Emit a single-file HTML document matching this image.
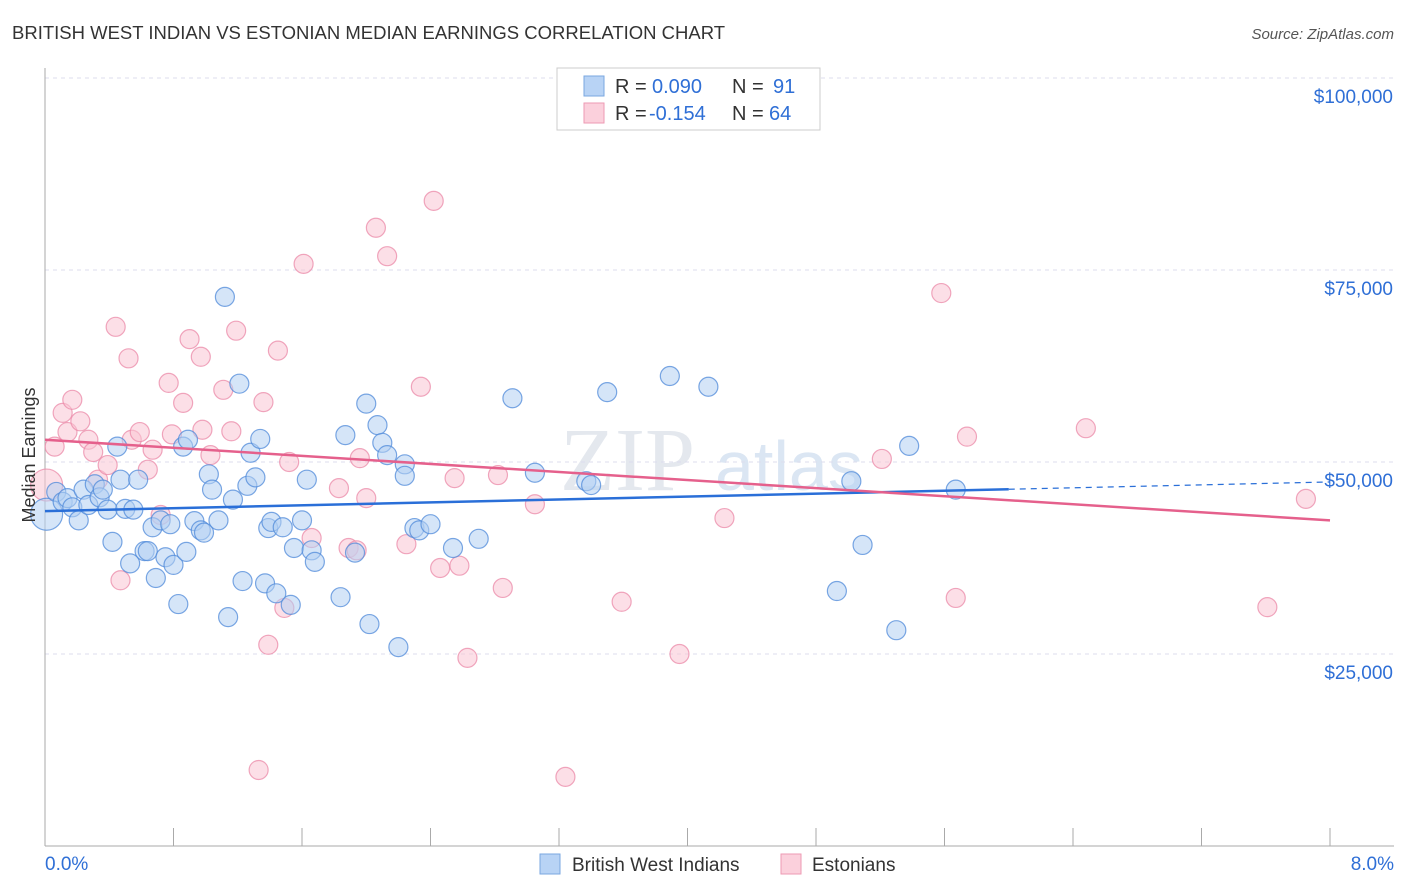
<!DOCTYPE html>
<html><head><meta charset="utf-8">
<style>
body{margin:0;background:#fff;font-family:"Liberation Sans",sans-serif;}
#wrap{position:relative;width:1406px;height:892px;overflow:hidden;}
</style></head>
<body>
<div id="wrap">
<svg id="chart" width="1406" height="892" xmlns="http://www.w3.org/2000/svg">
<text x="12" y="39" font-size="18.5" fill="#333">BRITISH WEST INDIAN VS ESTONIAN MEDIAN EARNINGS CORRELATION CHART</text>
<text x="1394" y="39" font-size="15" fill="#555" font-style="italic" text-anchor="end">Source: ZipAtlas.com</text>
<text x="560" y="490" font-size="90" fill="#e4e8ee" font-family="Liberation Serif, serif">ZIP</text>
<text x="715" y="490" font-size="70" fill="#dbe6f3">atlas</text>
<g id="grid"></g>
<g id="axes"></g>
<g id="pts"></g>
<g id="trend"></g>
<text transform="translate(35,455) rotate(-90)" font-size="18" fill="#333" text-anchor="middle">Median Earnings</text>
<g>
<rect x="557" y="68" width="263" height="62" fill="#fff" stroke="#ccc"/>
<rect x="584" y="76" width="20" height="20" fill="#b8d3f5" stroke="#7aa7e0"/>
<rect x="584" y="103" width="20" height="20" fill="#fbd0dc" stroke="#ee9ab3"/>
<text x="615" y="93" font-size="20" fill="#333">R =</text>
<text x="652" y="93" font-size="20" fill="#2f6fd6">0.090</text>
<text x="732" y="93" font-size="20" fill="#333">N =</text>
<text x="773" y="93" font-size="20" fill="#2f6fd6">91</text>
<text x="615" y="120" font-size="20" fill="#333">R =</text>
<text x="649" y="120" font-size="20" fill="#2f6fd6">-0.154</text>
<text x="732" y="120" font-size="20" fill="#333">N =</text>
<text x="769" y="120" font-size="20" fill="#2f6fd6">64</text>
</g>
<g>
<rect x="540" y="854" width="20" height="20" fill="#b8d3f5" stroke="#7aa7e0"/>
<text x="572" y="871" font-size="19" fill="#333">British West Indians</text>
<rect x="781" y="854" width="20" height="20" fill="#fbd0dc" stroke="#ee9ab3"/>
<text x="812" y="871" font-size="19" fill="#333">Estonians</text>
</g>
</svg>
</div>
<script>
const yTicks=[25000,50000,75000,100000];
const yTickLabels=["$25,000","$50,000","$75,000","$100,000"];
const xTickCount=10;
const xLabels=["0.0%","8.0%"];
const blueX=[0.01,0.07,0.11,0.14,0.17,0.21,0.24,0.27,0.31,0.34,0.36,0.39,0.42,0.45,0.47,0.50,0.53,0.55,0.58,0.62,0.64,0.67,0.69,0.72,0.75,0.78,0.80,0.83,0.86,0.88,0.89,0.93,0.97,0.99,1.02,1.04,1.08,1.12,1.14,1.17,1.21,1.23,1.26,1.28,1.31,1.34,1.37,1.39,1.41,1.44,1.48,1.53,1.55,1.60,1.63,1.66,1.68,1.84,1.87,1.93,2.00,2.02,2.07,2.10,2.13,2.20,2.24,2.24,2.30,2.33,2.40,2.54,2.70,2.91,3.05,3.37,3.40,3.50,3.89,4.13,4.93,5.02,5.09,5.30,5.38,5.67];
const blueY=[43.2,46.1,44.8,45.3,44.1,42.4,46.4,44.4,47.1,45.4,46.4,43.8,39.6,52.0,47.7,43.9,36.8,43.8,47.7,38.4,38.4,41.5,34.9,42.4,37.6,41.9,36.6,31.5,52.0,38.3,52.9,42.3,41.1,40.8,48.4,46.4,42.4,71.5,29.8,45.1,60.2,34.5,46.9,51.2,48.0,53.0,34.2,41.4,42.2,32.9,41.5,31.4,38.8,42.4,47.7,38.5,37.0,32.4,53.5,38.2,57.6,28.9,54.8,52.5,50.9,25.9,49.7,48.2,41.4,41.1,41.9,38.8,40.0,58.3,48.6,47.5,47.0,59.1,61.2,59.8,33.2,47.5,39.2,28.1,52.1,46.4];
const pinkX=[0.01,0.06,0.11,0.14,0.17,0.22,0.27,0.30,0.33,0.39,0.44,0.47,0.52,0.54,0.59,0.64,0.67,0.72,0.77,0.79,0.86,0.90,0.97,0.98,1.03,1.11,1.16,1.19,1.33,1.36,1.39,1.45,1.49,1.52,1.61,1.66,1.83,1.89,1.94,1.96,2.00,2.06,2.13,2.25,2.34,2.42,2.46,2.55,2.58,2.63,2.82,2.85,3.05,3.24,3.59,3.95,4.23,5.21,5.58,5.67,5.74,6.48,7.61,7.85];
const pinkY=[47.0,52.0,56.4,53.9,58.1,55.3,52.9,51.3,47.7,49.6,67.6,34.6,63.5,52.9,53.9,49.0,51.6,43.1,60.3,53.6,57.7,66.0,63.7,54.2,50.9,59.4,54.0,67.1,9.9,57.8,26.2,64.5,31.0,50.0,75.8,40.1,46.6,38.8,38.5,50.5,45.3,80.5,76.8,39.3,59.8,84.0,36.2,47.9,36.5,24.5,48.3,33.6,44.5,9.0,31.8,25.0,42.7,50.4,72.0,32.3,53.3,54.4,31.1,45.2];
const blueTrend=[43.6,47.4];
const pinkTrend=[52.9,42.4];
const blueSolidEnd=6.0;

const NS="http://www.w3.org/2000/svg";
const X0=45,X1=1330,YB=846,PX_PER_K=7.68;
function xs(p){return X0+(p/8)*(X1-X0);}
function ys(k){return YB-k*PX_PER_K;}
function mk(t,a,parent){const e=document.createElementNS(NS,t);for(const k in a)e.setAttribute(k,a[k]);parent.appendChild(e);return e;}
const grid=document.getElementById('grid'),axes=document.getElementById('axes'),pts=document.getElementById('pts'),trend=document.getElementById('trend');
yTicks.forEach((v,i)=>{
  const y=ys(v/1000);
  const l=mk('line',{x1:X0,x2:1394,y1:y,y2:y,stroke:'#dde',"stroke-dasharray":'4,4'},grid);
  
  
  const t=mk('text',{x:1393,y:y+25,"font-size":19,fill:'#2f6fd6',"text-anchor":'end'},grid);
  t.textContent=yTickLabels[i];
  
  
});
const ya=mk('line',{x1:X0,x2:X0,y1:68,y2:YB,stroke:'#aaa'},axes);


const xa=mk('line',{x1:X0,x2:1394,y1:YB,y2:YB,stroke:'#aaa'},axes);


for(let i=0;i<=xTickCount;i++){
  const x=xs(i*8/xTickCount);
  const tk=mk('line',{x1:x,x2:x,y1:YB-18,y2:YB,stroke:'#aaa'},axes);
  
  
}
[[0,'start',45],[8,'end',1394]].forEach((d,i)=>{
  const t=mk('text',{x:d[2],y:870,"font-size":19,fill:'#2f6fd6',"text-anchor":d[1]},axes);
  t.textContent=xLabels[i];
  
  
});
function dots(X,Y,fill,stroke,name){
  X.forEach((x,i)=>{
    const r=i===0?16:9.5;
    const c=mk('circle',{cx:xs(x),cy:ys(Y[i]),r:r,fill:fill,"fill-opacity":0.55,stroke:stroke,"stroke-opacity":0.75,"stroke-width":1.2},pts);
    
    
  });
}
dots(pinkX,pinkY,'#f9c4d3','#eb8aa8','estonian-point');
dots(blueX,blueY,'#b3cff2','#4f8ad9','british-west-indian-point');
function lerp(t,a,b){return a+(b-a)*t/8;}
const b1=mk('line',{x1:xs(0),y1:ys(blueTrend[0]),x2:xs(blueSolidEnd),y2:ys(lerp(blueSolidEnd,blueTrend[0],blueTrend[1])),stroke:'#2a6fd8',"stroke-width":2.5},trend);


const b2=mk('line',{x1:xs(blueSolidEnd),y1:ys(lerp(blueSolidEnd,blueTrend[0],blueTrend[1])),x2:xs(8),y2:ys(blueTrend[1]),stroke:'#2a6fd8',"stroke-width":1.2,"stroke-dasharray":'6,5'},trend);


const p1=mk('line',{x1:xs(0),y1:ys(pinkTrend[0]),x2:xs(8),y2:ys(pinkTrend[1]),stroke:'#e5608c',"stroke-width":2.5},trend);


</script>
</body></html>
